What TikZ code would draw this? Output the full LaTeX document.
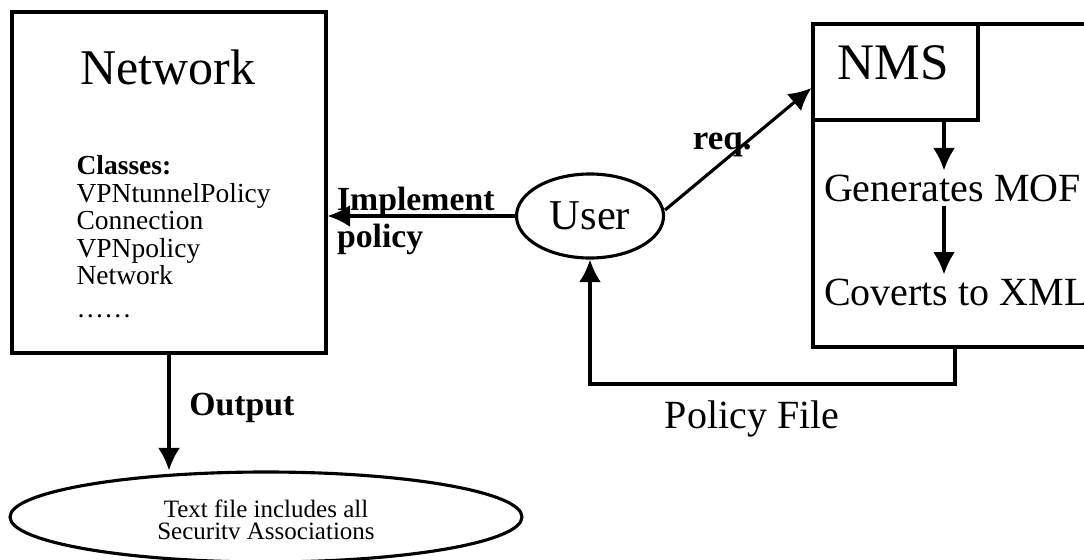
\documentclass[tikz,border=0pt]{standalone}
\usepackage{fontspec}
\setmainfont{Liberation Serif}
\usepackage{tikz}
\usetikzlibrary{shapes,arrows.meta,positioning}

\begin{document}
\begin{tikzpicture}[x=0.4pt,y=-0.4pt,line width=1.25pt,
        box/.style={draw, rectangle, inner sep=0pt},
        oval/.style={draw, ellipse, inner sep=0pt},
        txt/.style={inner sep=1pt},
        arr/.style={-{Latex[length=9pt,width=8.8pt]}},
        lbl/.style={txt, font=\fontsize{13.5}{15}\selectfont\bfseries}]
        \useasboundingbox (0,0) rectangle (1084,559);
        % Boxes:
        \node[box, minimum width=125.6pt, minimum height=136.4pt] (net) at (169,182.5) {};
        \node[box, minimum width=113.6pt, minimum height=129.2pt] (nmsarea) at (955,185.5) {};
        \node[box, minimum width=66pt, minimum height=38.4pt] (nms) at (895.5,72) {};
        \node[oval, minimum width=58.8pt, minimum height=33.6pt,
            font=\fontsize{17}{20}\selectfont] (user) at (590,216) {User};
        \node[oval, minimum width=204.8pt, minimum height=36pt] (sa) at (266,517) {};

        % Texts:
        \node[txt, font=\fontsize{20}{24}\selectfont] (nettitle) at (168,67) {Network};
        \node[txt, anchor=north west, inner sep=0pt, align=left,
            font=\fontsize{11}{11}\selectfont] (classes) at (75,154)
            {\textbf{Classes:}\\VPNtunnelPolicy\\Connection\\VPNpolicy\\Network\\[2pt]……};
        \node[txt, font=\fontsize{20.5}{24}\selectfont] (nmstitle) at (893,63) {NMS};
        \node[txt, anchor=west, font=\fontsize{16}{19}\selectfont] (gen) at (820,188) {Generates MOF};
        \node[txt, anchor=west, font=\fontsize{16}{19}\selectfont] (conv) at (820,292) {Coverts to XML};
        \node[txt, align=center, font=\fontsize{10}{9}\selectfont] (satext) at (266,520)
            {Text file includes all\\Securitv Associations};
        \node[lbl, anchor=west, align=left] (impl) at (333,221) {Implement\\policy};

        \coordinate (drop) at (944,0);
        \coordinate (pfcorner) at (955,384);

        % Connectors:
        \draw[arr] (user.west) -- (user.west -| net.east);
        \draw[arr] ([yshift=2.4pt]user.east) -- node[lbl, midway, xshift=-6.4pt, yshift=1.6pt,
            font=\fontsize{14}{16}\selectfont\bfseries] {req.} ([yshift=-6.4pt]nms.west);
        \draw[arr] (nms.south -| drop) -- (gen.north -| drop);
        \draw[arr] (gen.south -| drop) -- (conv.north -| drop);
        \draw[arr] (nmsarea.south) -- (pfcorner) -| node[txt, pos=0.278, below=5pt,
            font=\fontsize{16}{19}\selectfont] {Policy File} (user.south);
        \draw[arr] (net.south) -- node[lbl, pos=0.46, right=6.5pt] {Output} (net.south |- sa.north);
\end{tikzpicture}
\end{document}
